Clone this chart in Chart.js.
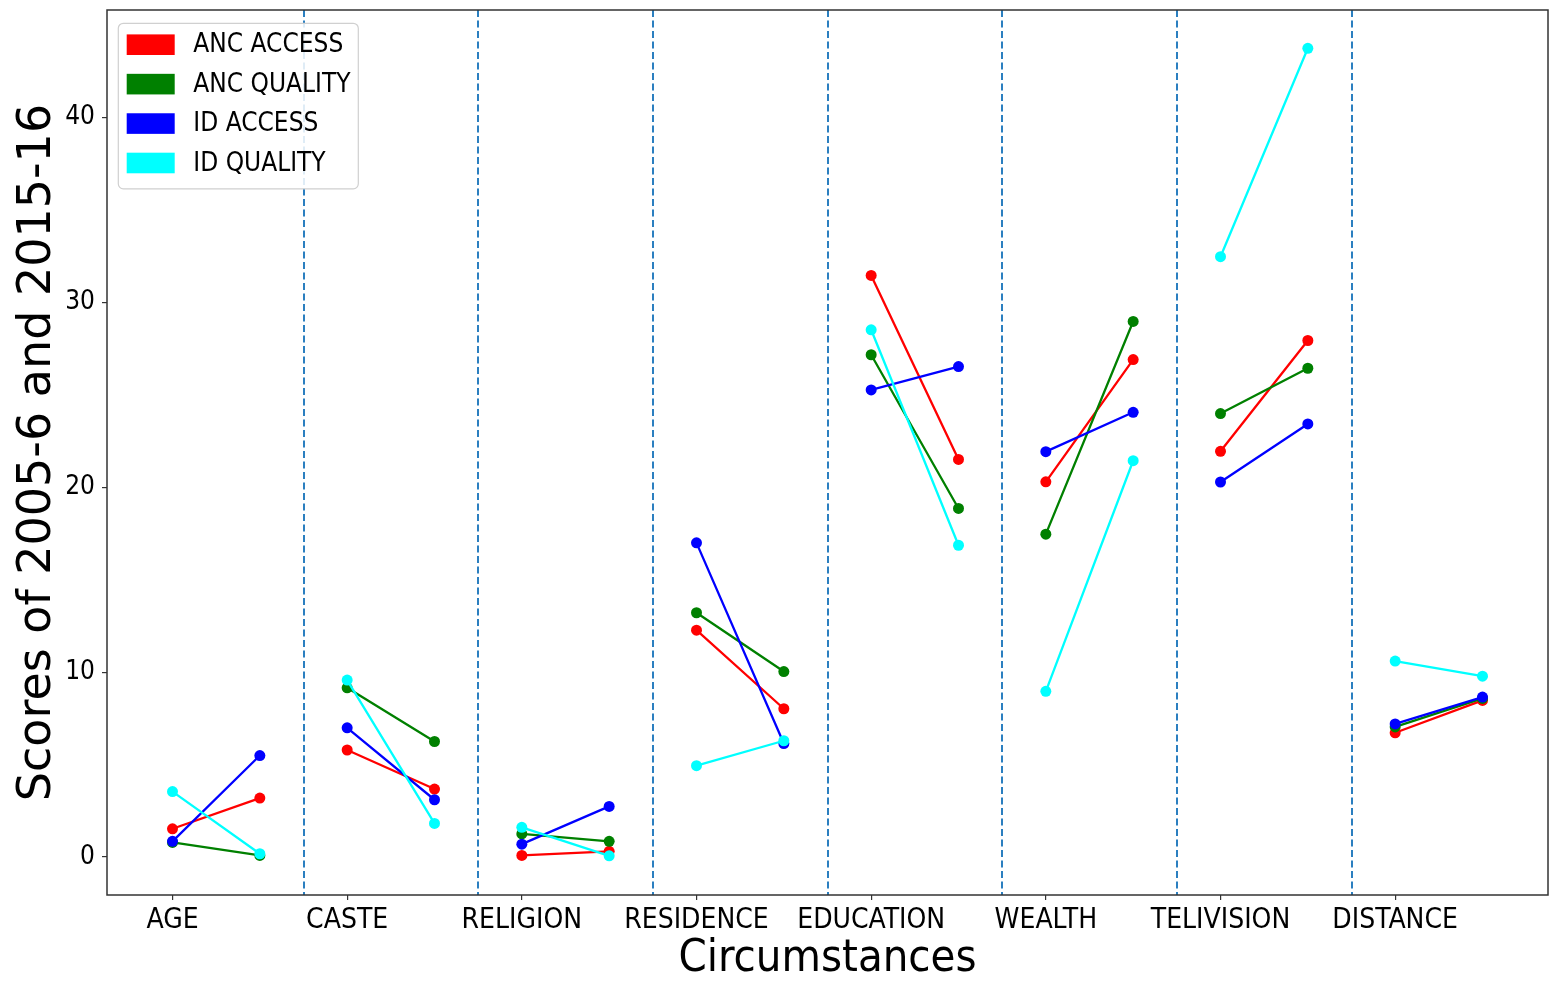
<!DOCTYPE html>
<html><head><meta charset="utf-8">
<script src="https://cdn.jsdelivr.net/npm/chart.js@4.4.0/dist/chart.umd.min.js"></script>
<style>html,body{margin:0;padding:0;background:#fff;} canvas{display:block;}</style>
</head><body>
<canvas id="c" width="1556" height="987"></canvas>
<script>
const categories = ['AGE','CASTE','RELIGION','RESIDENCE','EDUCATION','WEALTH','TELIVISION','DISTANCE'];
const seriesNames = ['ANC ACCESS','ANC QUALITY','ID ACCESS','ID QUALITY'];
const seriesColors = ['#ff0000','#008000','#0000ff','#00ffff'];

// scores: first value = 2005-6, second value = 2015-16
const ancAccess2005  = [1.53, 5.79, 0.09, 12.27, 31.45, 20.29, 21.94, 6.72];
const ancAccess2015  = [3.19, 3.68, 0.31,  8.02, 21.50, 26.90, 27.93, 8.47];
const ancQuality2005 = [0.79, 9.15, 1.25, 13.21, 27.16, 17.46, 23.98, 7.04];
const ancQuality2015 = [0.09, 6.25, 0.85, 10.03, 18.85, 28.96, 26.43, 8.58];
const idAccess2005   = [0.85, 6.99, 0.70, 16.99, 25.26, 21.92, 20.28, 7.20];
const idAccess2015   = [5.49, 3.10, 2.74,  6.14, 26.52, 24.05, 23.42, 8.65];
const idQuality2005  = [3.54, 9.57, 1.61,  4.94, 28.51,  8.96, 32.46, 10.60];
const idQuality2015  = [0.18, 1.82, 0.07,  6.29, 16.86, 21.43, 43.73, 9.78];

const dividerPositions = [0.75, 1.75, 2.75, 3.75, 4.75, 5.75, 6.75];
const yTickValues = [0, 10, 20, 30, 40];

const seriesData = [
  [ancAccess2005, ancAccess2015],
  [ancQuality2005, ancQuality2015],
  [idAccess2005, idAccess2015],
  [idQuality2005, idQuality2015]
];

function buildPoints(first, second) {
  const pts = [];
  first.forEach((v, i) => {
    pts.push({x: i, y: v});
    pts.push({x: i + 0.5, y: second[i]});
    pts.push({x: i + 0.75, y: null});
  });
  return pts;
}

const FONT_H = "'DejaVu Sans Condensed', 'DejaVu Sans', sans-serif";
const FONT_V = "'DejaVu Sans', sans-serif";

const datasets = seriesNames.map((name, k) => ({
  label: name,
  data: buildPoints(seriesData[k][0], seriesData[k][1]),
  borderColor: seriesColors[k],
  backgroundColor: seriesColors[k],
  borderWidth: 2.3,
  pointRadius: 5.5,
  pointHoverRadius: 5.5,
  pointBorderWidth: 0,
  spanGaps: false,
  tension: 0,
  order: seriesNames.length - 1 - k
}));

const dividerPlugin = {
  id: 'dividers',
  beforeDatasetsDraw(chart) {
    const {ctx, chartArea: a, scales: {x}} = chart;
    ctx.save();
    ctx.strokeStyle = '#2b7fc0';
    ctx.lineWidth = 2;
    ctx.setLineDash([7, 3.5]);
    dividerPositions.forEach(v => {
      const px = Math.round(x.getPixelForValue(v));
      ctx.beginPath();
      ctx.moveTo(px, a.top);
      ctx.lineTo(px, a.bottom);
      ctx.stroke();
    });
    ctx.restore();
  }
};

const framePlugin = {
  id: 'frame',
  afterDatasetsDraw(chart) {
    const {ctx, chartArea: a} = chart;
    ctx.save();
    ctx.strokeStyle = '#333333';
    ctx.lineWidth = 1.5;
    ctx.strokeRect(a.left, a.top, a.right - a.left, a.bottom - a.top);
    ctx.restore();
  }
};

const legendPlugin = {
  id: 'insideLegend',
  afterDraw(chart) {
    const {ctx, chartArea: a} = chart;
    const bx = a.left + 11.3, by = a.top + 13.3, bw = 240, bh = 165.5;
    ctx.save();
    ctx.fillStyle = 'rgba(255,255,255,0.85)';
    ctx.strokeStyle = '#d0d0d0';
    ctx.lineWidth = 1.2;
    ctx.beginPath();
    ctx.roundRect(bx, by, bw, bh, 5);
    ctx.fill();
    ctx.stroke();
    ctx.font = "26px " + FONT_H;
    ctx.textBaseline = 'middle';
    ctx.textAlign = 'left';
    chart.data.datasets.forEach((ds, i) => {
      const cy = by + 21.4 + i * 39.43;
      ctx.fillStyle = ds.borderColor;
      ctx.fillRect(bx + 8.4, cy - 10.3, 48, 20.6);
      ctx.fillStyle = '#000000';
      ctx.fillText(ds.label, bx + 75, cy + 1);
    });
    ctx.restore();
  }
};

new Chart(document.getElementById('c'), {
  type: 'line',
  data: { datasets },
  options: {
    responsive: false,
    animation: false,
    devicePixelRatio: 1,
    events: [],
    layout: { padding: { left: 0, top: 10, right: 8, bottom: 0 } },
    plugins: { legend: { display: false }, tooltip: { enabled: false } },
    scales: {
      x: {
        type: 'linear',
        min: -0.375,
        max: 7.875,
        afterBuildTicks: s => { s.ticks = categories.map((_, i) => ({ value: i })); },
        afterFit: s => { s.height = 92; s.paddingLeft = 0; s.paddingRight = 0; },
        grid: { display: true, drawOnChartArea: false, drawTicks: true, tickLength: 5, color: '#333333', lineWidth: 1.2 },
        border: { display: false },
        ticks: {
          autoSkip: false, maxRotation: 0, minRotation: 0, padding: 4,
          color: '#000000',
          font: { family: FONT_H, size: 28 },
          callback: (v) => categories[v] !== undefined ? categories[v] : ''
        },
        title: {
          display: true, text: 'Circumstances', color: '#000000',
          font: { family: FONT_H, size: 45 },
          padding: { top: 0, bottom: 1 }
        }
      },
      y: {
        type: 'linear',
        min: -2.05,
        max: 45.8,
        afterBuildTicks: s => { s.ticks = yTickValues.map(v => ({ value: v })); },
        afterFit: s => { s.width = 107; s.paddingTop = 0; s.paddingBottom = 0; },
        grid: { display: true, drawOnChartArea: false, drawTicks: true, tickLength: 5, color: '#333333', lineWidth: 1.2 },
        border: { display: false },
        ticks: {
          padding: 7, color: '#000000',
          font: { family: FONT_H, size: 26 },
          callback: v => String(v)
        },
        title: {
          display: true, text: 'Scores of 2005-6 and 2015-16', color: '#000000',
          font: { family: FONT_V, size: 46 },
          padding: { top: 10, bottom: 0 }
        }
      }
    }
  },
  plugins: [dividerPlugin, framePlugin, legendPlugin]
});
</script>
</body></html>
